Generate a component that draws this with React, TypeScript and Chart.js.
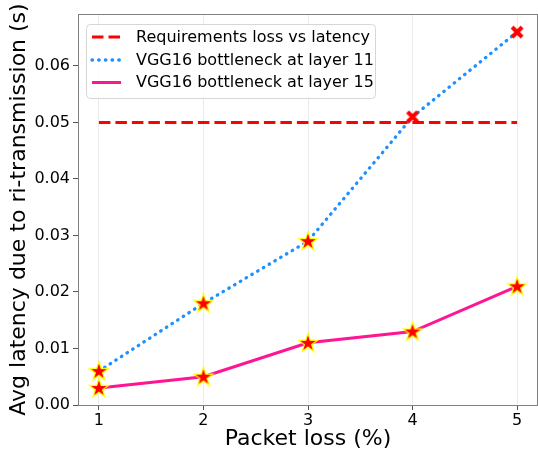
import React, { useEffect, useRef } from "react";
import { Chart, registerables } from "chart.js";

Chart.register(...registerables);

const packetLoss = [1, 2, 3, 4, 5];
const requirement = [0.05, 0.05, 0.05, 0.05, 0.05];
const layer11 = [0.006, 0.018, 0.029, 0.051, 0.066];
const layer15 = [0.003, 0.005, 0.011, 0.013, 0.021];
const seriesLabels = [
  "Requirements loss vs latency",
  "VGG16 bottleneck at layer 11",
  "VGG16 bottleneck at layer 15",
];
const xTitle = "Packet loss (%)";
const yTitle = "Avg latency due to ri-transmission (s)";
const threshold = 0.05;

const FONT = "'DejaVu Sans', sans-serif";

function makeStar(): HTMLCanvasElement {
  const c = document.createElement("canvas");
  const s = 24;
  c.width = s;
  c.height = s;
  const ctx = c.getContext("2d")!;
  const cx = s / 2, cy = s / 2 + 0.5;
  const R = 10, r = R * 0.382;
  ctx.beginPath();
  for (let i = 0; i < 10; i++) {
    const rad = i % 2 === 0 ? R : r;
    const a = -Math.PI / 2 + (i * Math.PI) / 5;
    const x = cx + rad * Math.cos(a);
    const y = cy + rad * Math.sin(a);
    if (i === 0) ctx.moveTo(x, y);
    else ctx.lineTo(x, y);
  }
  ctx.closePath();
  ctx.fillStyle = "#ff0000";
  ctx.fill();
  ctx.lineWidth = 1.2;
  ctx.strokeStyle = "#ffff00";
  ctx.stroke();
  return c;
}

function makeX(): HTMLCanvasElement {
  const c = document.createElement("canvas");
  const s = 16;
  c.width = s;
  c.height = s;
  const ctx = c.getContext("2d")!;
  ctx.strokeStyle = "#ff0000";
  ctx.lineWidth = 4;
  ctx.lineCap = "butt";
  const a = 3, b = s - 3;
  ctx.beginPath();
  ctx.moveTo(a, a);
  ctx.lineTo(b, b);
  ctx.moveTo(b, a);
  ctx.lineTo(a, b);
  ctx.stroke();
  return c;
}

export default function App() {
  const ref = useRef<HTMLCanvasElement>(null);

  useEffect(() => {
    if (!ref.current) return;
    const star = makeStar();
    const xMark = makeX();
    const markerFor = (ctx: any) => {
      const v = ctx.raw && typeof ctx.raw === "object" ? ctx.raw.y : ctx.raw;
      return v > threshold ? xMark : star;
    };

    const toPts = (ys: number[]) => packetLoss.map((x, i) => ({ x, y: ys[i] }));

    const frame = {
      id: "frame",
      afterDraw(chart: any) {
        const { ctx, chartArea } = chart;
        ctx.save();
        ctx.strokeStyle = "#808080";
        ctx.lineWidth = 1;
        ctx.strokeRect(
          Math.round(chartArea.left) + 0.5,
          Math.round(chartArea.top) + 0.5,
          Math.round(chartArea.right - chartArea.left) - 1,
          Math.round(chartArea.bottom - chartArea.top)
        );
        // legend
        const bx = 86.5, by = 24.5, bw = 289, bh = 74, rr = 4;
        ctx.beginPath();
        ctx.moveTo(bx + rr, by);
        ctx.arcTo(bx + bw, by, bx + bw, by + bh, rr);
        ctx.arcTo(bx + bw, by + bh, bx, by + bh, rr);
        ctx.arcTo(bx, by + bh, bx, by, rr);
        ctx.arcTo(bx, by, bx + bw, by, rr);
        ctx.closePath();
        ctx.fillStyle = "rgba(255,255,255,0.8)";
        ctx.fill();
        ctx.strokeStyle = "#d6d6d6";
        ctx.stroke();
        const rows = [37, 60, 82.5];
        chart.data.datasets.forEach((ds: any, i: number) => {
          const y = rows[i];
          ctx.beginPath();
          ctx.strokeStyle = ds.borderColor;
          ctx.lineWidth = ds.borderWidth;
          ctx.setLineDash(ds.borderDash || []);
          ctx.lineCap = ds.borderCapStyle || "butt";
          ctx.moveTo(92, y);
          ctx.lineTo(121, y);
          ctx.stroke();
          ctx.setLineDash([]);
          ctx.fillStyle = "#000";
          ctx.font = `16px ${FONT}`;
          ctx.textBaseline = "middle";
          ctx.textAlign = "left";
          ctx.fillText(ds.label, 136, y + 0.5);
        });
        ctx.restore();
      },
    };

    const chart = new Chart(ref.current, {
      type: "line",
      data: {
        datasets: [
          {
            label: seriesLabels[0],
            data: toPts(requirement),
            borderColor: "#ff0000",
            borderWidth: 3,
            borderDash: [11.5, 5],
            pointRadius: 0,
            fill: false,
          },
          {
            label: seriesLabels[1],
            data: toPts(layer11),
            borderColor: "#1e90ff",
            borderWidth: 3.3,
            borderDash: [0.5, 6.2],
            borderCapStyle: "round",
            pointStyle: markerFor as any,
            pointRadius: 8,
            fill: false,
          },
          {
            label: seriesLabels[2],
            data: toPts(layer15),
            borderColor: "#ff1493",
            borderWidth: 3,
            pointStyle: markerFor as any,
            pointRadius: 8,
            fill: false,
          },
        ],
      },
      options: {
        animation: false,
        responsive: false,
        layout: { autoPadding: false, padding: { top: 14, right: 0, left: 0, bottom: 0 } },
        plugins: { legend: { display: false }, tooltip: { enabled: false } },
        scales: {
          x: {
            type: "linear",
            min: 0.8,
            max: 5.2,
            border: { display: false },
            grid: {
              color: "#ebebeb",
              lineWidth: 1,
              tickColor: "#555",
              tickLength: 5,
            },
            ticks: {
              stepSize: 1,
              includeBounds: false,
              color: "#000",
              padding: 1,
              font: { family: FONT, size: 16 },
              callback: (v: any) => String(v),
            },
            title: {
              display: true,
              text: xTitle,
              color: "#000",
              font: { family: FONT, size: 22 },
              padding: { top: 5, bottom: 0 },
            },
            afterFit: (s: any) => {
              s.height = 47;
            },
          },
          y: {
            min: 0,
            max: 0.0692,
            border: { display: false },
            grid: {
              drawOnChartArea: false,
              color: "transparent",
              tickColor: "#555",
              tickLength: 5,
            },
            ticks: {
              stepSize: 0.01,
              includeBounds: false,
              color: "#000",
              padding: 3,
              font: { family: FONT, size: 16 },
              callback: (v: any) => Number(v).toFixed(2),
            },
            title: {
              display: true,
              text: yTitle,
              color: "#000",
              font: { family: FONT, size: 22 },
              padding: { top: 6, bottom: 0 },
            },
            afterFit: (s: any) => {
              s.width = 78;
            },
          },
        },
      },
      plugins: [frame],
    });
    return () => chart.destroy();
  }, []);

  return (
    <div style={{ position: "fixed", left: 0, top: 0, width: 538, height: 452, background: "#fff" }}>
      <canvas ref={ref} width={538} height={452} style={{ width: 538, height: 452 }} />
    </div>
  );
}
